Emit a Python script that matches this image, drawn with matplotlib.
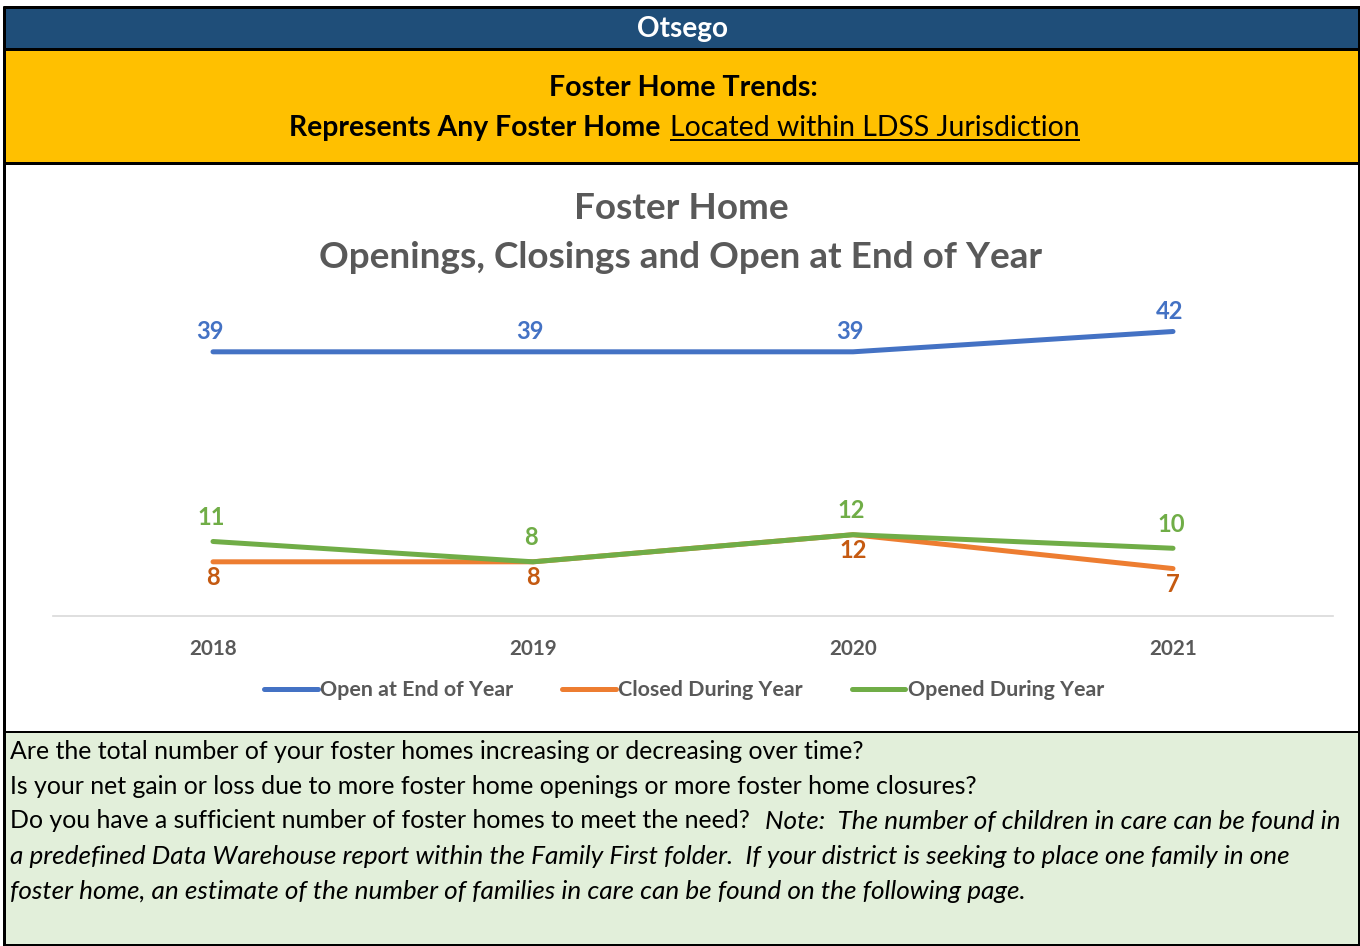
import matplotlib
matplotlib.use('Agg')
import matplotlib.pyplot as plt
from matplotlib.lines import Line2D
from matplotlib.patches import Rectangle

plt.rcParams['font.family'] = ['Lato', 'DejaVu Sans']

# data
years = ['2018', '2019', '2020', '2021']
open_end = [39, 39, 39, 42]
closed = [8, 8, 12, 7]
opened = [11, 8, 12, 10]
series_names = ['Open at End of Year', 'Closed During Year', 'Opened During Year']

W, H = 1360, 946
GRAY = '#595959'

fig = plt.figure(figsize=(W / 100, H / 100), dpi=100)
renderer = fig.canvas.get_renderer()


def box(x0, y0, x1, y1, color):
    fig.patches.append(Rectangle((x0 / W, 1 - y1 / H), (x1 - x0) / W, (y1 - y0) / H,
                                 transform=fig.transFigure, facecolor=color,
                                 edgecolor='none', zorder=-2))


def bline(x0, y0, x1, y1, px, color='black'):
    fig.add_artist(Line2D([x0 / W, x1 / W], [1 - y0 / H, 1 - y1 / H], color=color,
                          lw=px * 0.72, transform=fig.transFigure, solid_capstyle='butt'))


def txt(x, y, s, size=10, **kw):
    kw.setdefault('va', 'center')
    return fig.text(x / W, 1 - y / H, s, fontsize=size, **kw)


def fit(t, width_px):
    w = t.get_window_extent(renderer).width
    t.set_fontsize(t.get_fontsize() * width_px / w)
    return t.get_fontsize()


def size_for(s, width_px, **kw):
    t = fig.text(0, 0, s, fontsize=10, **kw)
    size = fit(t, width_px)
    t.remove()
    return size


# background bands
box(5, 8, 1358, 48, '#1F4E79')
box(5, 50, 1358, 162, '#FFC000')
box(5, 164, 1358, 731, 'white')
box(5, 733, 1358, 944, '#E2EFDA')

# frame lines
bline(3, 7, 1360, 7, 3)
bline(3, 49, 1360, 49, 3)
bline(3, 163, 1360, 163, 3)
bline(3, 732, 1360, 732, 2)
bline(3, 945, 1360, 945, 2)
bline(4, 6, 4, 946, 3)
bline(1359, 6, 1359, 946, 2)

# header texts
t = txt(683, 29, 'Otsego', weight='bold', color='white', ha='center')
fit(t, 91)
t = txt(683, 88, 'Foster Home Trends:', weight='bold', color='black', ha='center')
fit(t, 271)
t = txt(289, 128, 'Represents Any Foster Home', weight='bold', color='black', ha='left')
sz = fit(t, 373)
t2 = txt(670, 128, 'Located within LDSS Jurisdiction', size=sz, color='black', ha='left')
w2 = t2.get_window_extent(renderer).width
bline(670, 140, 670 + w2, 140, 2)

# chart title
t = txt(681, 257, 'Openings, Closings and Open at End of Year', weight='bold', color=GRAY, ha='center')
tsz = fit(t, 723)
txt(681, 208, 'Foster Home', size=tsz, weight='bold', color=GRAY, ha='center')

# chart
px_per_unit = 6.774
ax = fig.add_axes([53 / W, 1 - 616 / H, 1280 / W, 45 * px_per_unit / H])
ax.set_facecolor('none')
ax.set_xlim(-0.5, 3.5)
ax.set_ylim(0, 45)
x = list(range(len(years)))

year_size = size_for('2018', 48, weight='bold')
label_size = year_size * 1.15

ax.plot(x, open_end, color='#4472C4', lw=3.6, solid_capstyle='round', label=series_names[0])
ax.plot(x, closed, color='#ED7D31', lw=3.6, solid_capstyle='round', label=series_names[1])
ax.plot(x, opened, color='#70AD47', lw=3.6, solid_capstyle='round', label=series_names[2])

for xi, v in zip(x, open_end):
    ax.annotate(str(v), (xi, v), xytext=(-3, 20), textcoords='offset pixels',
                ha='center', va='center', color='#4472C4', weight='bold', fontsize=label_size)
for xi, v in zip(x, closed):
    ax.annotate(str(v), (xi, v), xytext=(0, -16), textcoords='offset pixels',
                ha='center', va='center', color='#C55A11', weight='bold', fontsize=label_size)
for xi, v in zip(x, opened):
    ax.annotate(str(v), (xi, v), xytext=(-2, 24), textcoords='offset pixels',
                ha='center', va='center', color='#70AD47', weight='bold', fontsize=label_size)

ax.set_xticks(x, years)
ax.set_yticks([])
ax.tick_params(axis='x', length=0, pad=16.5, labelsize=year_size, labelcolor=GRAY)
for lab in ax.get_xticklabels():
    lab.set_fontweight('bold')
for s in ['top', 'left', 'right']:
    ax.spines[s].set_visible(False)
ax.spines['bottom'].set_color('#D9D9D9')
ax.spines['bottom'].set_linewidth(1.2)

leg_size = size_for('Open at End of Year', 194, weight='bold')
leg = fig.legend(loc='center', bbox_to_anchor=(684 / W, 1 - 690 / H), ncol=3, frameon=False,
                 handlelength=2.5, handletextpad=0.1, columnspacing=2.3,
                 prop={'weight': 'bold', 'size': leg_size})
for tx in leg.get_texts():
    tx.set_color(GRAY)

# notes
line1 = 'Are the total number of your foster homes increasing or decreasing over time?'
line4 = ('a predefined Data Warehouse report within the Family First folder.  '
         'If your district is seeking to place one family in one')
nsz = size_for(line1, 855)
isz = size_for(line4, 1283, style='italic')
txt(10, 751, line1, size=nsz)
txt(10, 786, 'Is your net gain or loss due to more foster home openings or more foster home closures?', size=nsz)
txt(10, 821, 'Do you have a sufficient number of foster homes to meet the need?', size=nsz)
txt(765, 821, 'Note:  The number of children in care can be found in', size=isz, style='italic')
txt(10, 856, line4, size=isz, style='italic')
txt(10, 891, 'foster home, an estimate of the number of families in care can be found on the following page.',
    size=isz, style='italic')

fig.savefig('out.png', dpi=100)
